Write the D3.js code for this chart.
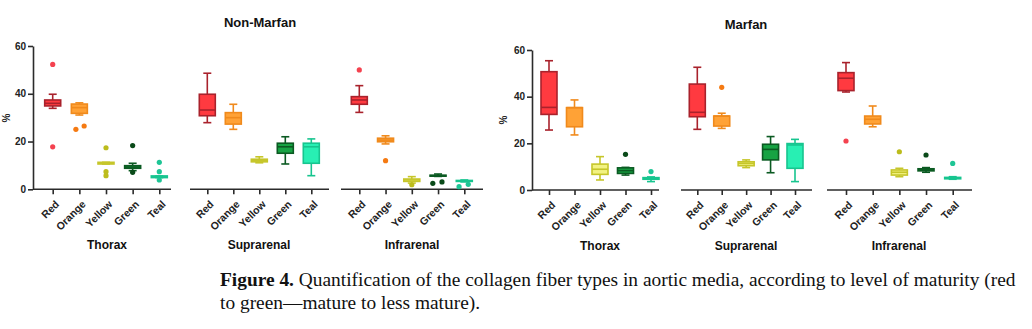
<!DOCTYPE html>
<html>
<head>
<meta charset="utf-8">
<script src="https://cdn.jsdelivr.net/npm/d3@7"></script>
<style>
  html, body { margin: 0; padding: 0; background: #fff; }
  svg { display: block; }
</style>
</head>
<body>
<svg id="chart" width="1032" height="329"></svg>
<script>
// ---------------- DATA ----------------
const categories = ["Red", "Orange", "Yellow", "Green", "Teal"];
const regions = ["Thorax", "Suprarenal", "Infrarenal"];
const groups = ["Non-Marfan", "Marfan"];
const yTicks = [0, 20, 40, 60];
const yLabel = "%";

// box stats per category: [min, q1, median, q3, max]
const nonMarfanThorax = [[33.9, 34.9, 36.0, 37.4, 39.8], [31.1, 31.8, 34.2, 35.7, 36.2], [10.6, 10.6, 10.9, 11.3, 11.3], [7.8, 8.8, 9.3, 9.9, 10.9], [4.9, 4.9, 5.2, 5.6, 5.6]];
const nonMarfanSuprarenal = [[27.9, 30.8, 33.2, 39.8, 48.6], [25.1, 27.3, 30.0, 32.1, 35.6], [11.1, 11.5, 12.1, 12.6, 13.6], [10.6, 15.1, 17.8, 19.3, 22.0], [5.7, 10.9, 17.8, 19.3, 21.1]];
const nonMarfanInfrarenal = [[32.2, 35.6, 37.4, 38.8, 43.4], [19.0, 19.9, 20.6, 21.4, 22.4], [2.6, 3.3, 3.9, 4.3, 5.3], [5.4, 5.5, 5.7, 5.9, 6.4], [3.1, 3.3, 3.5, 3.7, 3.9]];
const marfanThorax = [[25.7, 32.4, 35.4, 50.7, 55.4], [23.6, 27.1, 35.3, 35.3, 38.6], [4.3, 6.7, 8.9, 11.1, 14.3], [6.4, 7.1, 8.3, 9.5, 9.7], [3.6, 4.6, 5.0, 5.3, 5.6]];
const marfanSuprarenal = [[26.0, 31.4, 33.3, 45.4, 52.6], [26.4, 27.4, 31.7, 31.7, 32.9], [9.6, 10.4, 11.4, 12.1, 12.9], [7.4, 12.9, 17.4, 19.6, 22.9], [3.6, 9.3, 19.3, 19.9, 21.7]];
const marfanInfrarenal = [[42.0, 42.6, 47.9, 50.3, 54.6], [27.1, 28.3, 30.3, 31.7, 36.0], [5.7, 6.4, 7.6, 8.6, 9.3], [7.6, 8.2, 8.6, 9.1, 9.6], [4.6, 4.8, 5.1, 5.4, 5.7]];

// outliers per category: [value, jitter (fraction of category spacing)]
const nonMarfanThoraxOut = [[[52.3, 0], [17.8, 0]], [[25.1, -0.13], [26.5, 0.18]], [[17.4, 0], [7.4, 0], [5.7, 0]], [[18.3, 0], [7.1, 0]], [[11.3, 0], [7.4, 0], [3.9, 0]]];
const nonMarfanSuprarenalOut = [[], [], [], [], []];
const nonMarfanInfrarenalOut = [[[50.0, 0]], [[12.0, 0]], [[1.9, 0]], [[2.5, -0.2], [3.1, 0.15]], [[1.1, -0.2], [2.1, 0.15]]];
const marfanThoraxOut = [[], [], [], [[15.3, 0]], [[7.9, 0]]];
const marfanSuprarenalOut = [[], [[44.0, 0]], [], [], []];
const marfanInfrarenalOut = [[[21.0, 0]], [], [[16.4, 0]], [[15.0, 0]], [[11.4, 0]]];

const captionBold = "Figure 4.";
const captionLine1 = " Quantification of the collagen fiber types in aortic media, according to level of maturity (red";
const captionLine2 = "to green\u2014mature to less mature).";

// ---------------- STYLE / LAYOUT ----------------
const fills   = ["#ff3a40", "#ffa236", "#f2f282", "#17a343", "#28efb3"];
const strokes = ["#a9222c", "#f08a1c", "#c6c62a", "#0b5a22", "#17c58f"];
const dots    = ["#f4424f", "#f57a12", "#bcbc1c", "#0a4a19", "#1ec595"];

const statsByGroup = [[nonMarfanThorax, nonMarfanSuprarenal, nonMarfanInfrarenal], [marfanThorax, marfanSuprarenal, marfanInfrarenal]];
const outByGroup = [[nonMarfanThoraxOut, nonMarfanSuprarenalOut, nonMarfanInfrarenalOut], [marfanThoraxOut, marfanSuprarenalOut, marfanInfrarenalOut]];

const panels = [
  { axisX: 33, yRange: [189.3, 46], titleX: 260, titleY: 27, labelX: 10, labelY: 118,
    segs: [{ l0: 33, l1: 171, p0: 52.7, p1: 159.3, lx: 107 }, { l0: 190, l1: 329, p0: 207.3, p1: 311.3, lx: 259 }, { l0: 341, l1: 483, p0: 359.3, p1: 464.3, lx: 412 }] },
  { axisX: 532, yRange: [190, 50], titleX: 746, titleY: 29, labelX: 507, labelY: 120,
    segs: [{ l0: 532, l1: 659, p0: 549, p1: 651, lx: 600 }, { l0: 681, l1: 812, p0: 697.3, p1: 795, lx: 746 }, { l0: 827, l1: 972, p0: 846, p1: 952.7, lx: 899 }] }
];

const svg = d3.select("#chart");
const font = "'Liberation Sans', Arial, sans-serif";
const axisColor = "#2b2b2b";
const boxW = 16, capW = 8;

panels.forEach((p, gi) => {
  const y = d3.scaleLinear().domain([0, 60]).range(p.yRange);
  const g = svg.append("g");
  const baseY = y(0);

  // y axis
  const yAxis = g.append("g").attr("transform", `translate(${p.axisX},0)`)
    .call(d3.axisLeft(y).tickValues(yTicks).tickSize(5).tickSizeOuter(0).tickPadding(2));
  yAxis.select(".domain").attr("stroke", axisColor).attr("stroke-width", 1.6);
  yAxis.selectAll(".tick line").attr("stroke", axisColor).attr("stroke-width", 1.6);
  yAxis.selectAll(".tick text").attr("font-family", font).attr("font-weight", "bold")
    .attr("font-size", 10).attr("fill", "#222");

  // y label
  g.append("text").attr("transform", `translate(${p.labelX},${p.labelY}) rotate(-90)`)
    .attr("text-anchor", "middle").attr("font-family", font).attr("font-weight", "bold")
    .attr("font-size", 10).attr("fill", "#222").text(yLabel);

  // title
  g.append("text").attr("x", p.titleX).attr("y", p.titleY).attr("text-anchor", "middle")
    .attr("font-family", font).attr("font-weight", "bold").attr("font-size", 13)
    .attr("fill", "#111").text(groups[gi]);

  p.segs.forEach((s, ri) => {
    const x = d3.scalePoint().domain(categories).range([s.p0, s.p1]);
    const step = x.step();
    // axis line
    g.append("line").attr("x1", s.l0).attr("x2", s.l1).attr("y1", baseY).attr("y2", baseY)
      .attr("stroke", axisColor).attr("stroke-width", 1.6);
    const xAxis = g.append("g").attr("transform", `translate(0,${baseY})`)
      .call(d3.axisBottom(x).tickSize(5).tickSizeOuter(0));
    xAxis.select(".domain").remove();
    xAxis.selectAll(".tick line").attr("stroke", axisColor).attr("stroke-width", 1.6);
    xAxis.selectAll(".tick text")
      .attr("font-family", font).attr("font-weight", "bold").attr("font-size", 10.5).attr("fill", "#222")
      .attr("text-anchor", "end").attr("dy", "0.35em").attr("y", 0)
      .attr("transform", "translate(4,13) rotate(-45)");

    // region label
    g.append("text").attr("x", s.lx).attr("y", baseY + 60).attr("text-anchor", "middle")
      .attr("font-family", font).attr("font-weight", "bold").attr("font-size", 12)
      .attr("fill", "#111").text(regions[ri]);

    const stats = statsByGroup[gi][ri];
    const outs = outByGroup[gi][ri];
    categories.forEach((c, ci) => {
      const [mn, q1, md, q3, mx] = stats[ci];
      const cx = x(c);
      const bg = g.append("g");
      const st = strokes[ci];
      // whiskers
      bg.append("line").attr("x1", cx).attr("x2", cx).attr("y1", y(mx)).attr("y2", y(q3)).attr("stroke", st).attr("stroke-width", 1.6);
      bg.append("line").attr("x1", cx).attr("x2", cx).attr("y1", y(q1)).attr("y2", y(mn)).attr("stroke", st).attr("stroke-width", 1.6);
      bg.append("line").attr("x1", cx - capW / 2).attr("x2", cx + capW / 2).attr("y1", y(mx)).attr("y2", y(mx)).attr("stroke", st).attr("stroke-width", 1.6);
      bg.append("line").attr("x1", cx - capW / 2).attr("x2", cx + capW / 2).attr("y1", y(mn)).attr("y2", y(mn)).attr("stroke", st).attr("stroke-width", 1.6);
      // box
      bg.append("rect").attr("x", cx - boxW / 2).attr("width", boxW)
        .attr("y", y(q3)).attr("height", Math.max(y(q1) - y(q3), 0.5))
        .attr("fill", fills[ci]).attr("stroke", st).attr("stroke-width", 1.6);
      // median
      bg.append("line").attr("x1", cx - boxW / 2).attr("x2", cx + boxW / 2).attr("y1", y(md)).attr("y2", y(md))
        .attr("stroke", st).attr("stroke-width", 1.6);
      // outliers
      outs[ci].forEach(([v, j]) => {
        bg.append("circle").attr("cx", cx + j * step).attr("cy", y(v)).attr("r", 2.6).attr("fill", dots[ci]);
      });
    });
  });
});

// caption
const serif = "'Liberation Serif', 'Times New Roman', serif";
const cap1 = svg.append("text").attr("x", 220).attr("y", 286).attr("font-family", serif).attr("font-size", 16).attr("fill", "#111");
cap1.append("tspan").attr("font-weight", "bold").text(captionBold);
cap1.append("tspan").text(captionLine1);
const cap2 = svg.append("text").attr("x", 220).attr("y", 309).attr("font-family", serif).attr("font-size", 16).attr("fill", "#111").text(captionLine2);
// fit caption line width to reference (~796px)
const w = cap1.node().getComputedTextLength();
const fs = 16 * 796 / w;
cap1.attr("font-size", fs);
cap2.attr("font-size", fs);
</script>
</body>
</html>
